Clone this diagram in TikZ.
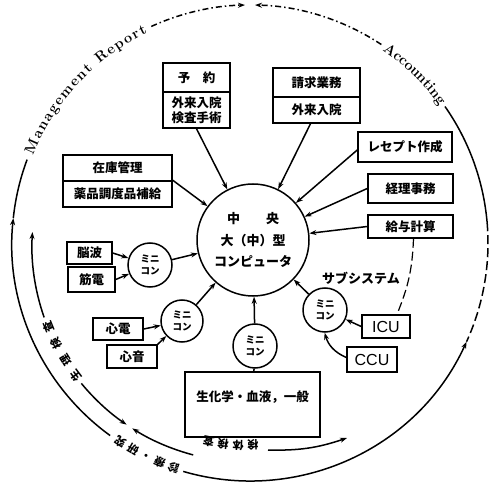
\documentclass[tikz,border=0pt]{standalone}
\usepackage{fontspec}
\newfontfamily\cjk{Noto Sans CJK JP}
\newfontfamily\lsans{Liberation Sans}
\usetikzlibrary{arrows.meta,decorations.text}
\begin{document}
\begin{tikzpicture}[x=1pt,y=1pt,line width=1.5pt,
  every node/.style={inner sep=0pt},
  arr/.style={-{Stealth[length=7pt,width=5pt]}},
  cell/.style={draw,rectangle,line width=1.5pt,align=center,font=\cjk\bfseries\fontsize{12.5}{15}\selectfont},
  mini/.style={draw,circle,line width=1.5pt,align=center,font=\cjk\bfseries\fontsize{9.5}{11.5}\selectfont},
  topdash/.style={dash pattern=on 6pt off 3pt on 1.5pt off 3pt},
  sidedash/.style={dash pattern=on 9pt off 4pt}]
\useasboundingbox (0,0) rectangle (492,482);
\fill[white] (0,0) rectangle (492,482);
\coordinate (C) at (250,239);
\coordinate (C2) at (248,236);
% central computer
\node[draw,circle,minimum size=112pt,line width=1.5pt,align=center,font=\cjk\bfseries\fontsize{13}{21.5}\selectfont] (central) at (253,242) {中　　央\\大（中）型\\コンピュータ};
% upper boxes
\node[cell,minimum width=67pt,minimum height=29pt] (yoyakuA) at (196.5,404.5) {予　約};
\node[cell,minimum width=67pt,minimum height=36pt] (yoyakuB) at (196.5,372) {外来入院\\検査手術};
\node[cell,minimum width=87pt,minimum height=29pt] (seikyuA) at (316.5,399.5) {請求業務};
\node[cell,minimum width=87pt,minimum height=26pt] (seikyuB) at (316.5,372) {外来入院};
\node[cell,minimum width=94pt,minimum height=30pt] (recept) at (405,335) {レセプト作成};
\node[cell,minimum width=85pt,minimum height=29pt] (keiri) at (410.5,293.5) {経理事務};
\node[cell,minimum width=85pt,minimum height=23pt] (kyuyo) at (410.5,255.5) {給与計算};
\node[cell,minimum width=109pt,minimum height=26pt] (zaikoA) at (117.5,314) {在庫管理};
\node[cell,minimum width=109pt,minimum height=26pt] (zaikoB) at (117.5,288) {薬品調度品補給};
% physiological
\node[cell,minimum width=45pt,minimum height=22pt] (nouha) at (89.5,229) {脳波};
\node[cell,minimum width=47pt,minimum height=25pt] (kinden) at (91.5,202.5) {筋電};
\node[cell,minimum width=50pt,minimum height=22pt] (shinden) at (118,153) {心電};
\node[cell,minimum width=50pt,minimum height=23pt] (shinon) at (132,125.5) {心音};
\node[mini,minimum size=44pt] (mini1) at (150,217) {ミニ\\コン};
\node[mini,minimum size=42pt] (mini2) at (182,161) {ミニ\\コン};
\node[mini,minimum size=44pt] (mini3) at (255,136) {ミニ\\コン};
\node[mini,minimum size=44pt] (mini4) at (325,172) {ミニ\\コン};
\node[draw,rectangle,line width=1.5pt,minimum width=135pt,minimum height=65pt] (seika) at (252.5,77.5) {};
\node[font=\cjk\bfseries\fontsize{12.5}{15}\selectfont] (seikatext) at (252.5,85) {生化学・血液，一般};
\node[cell,minimum width=48pt,minimum height=23pt,font=\lsans\fontsize{16}{16}\selectfont] (icu) at (386,155.5) {ICU};
\node[cell,minimum width=50pt,minimum height=25pt,font=\lsans\fontsize{16}{16}\selectfont] (ccu) at (372,122.5) {CCU};
\node[font=\cjk\bfseries\fontsize{13}{13}\selectfont] (subsys) at (361,204) {サブシステム};
% connectors
\draw[arr] (yoyakuB.south) -- (central);
\draw[arr] ([xshift=-6pt]seikyuB.south) -- (central);
\draw[arr] ([yshift=-3pt]recept.west) -- (central);
\draw[arr] (keiri.west) -- (central);
\draw[arr] (kyuyo.west) -- (central);
\draw[arr] (zaikoB.north east) -- (central);
\draw[arr] (nouha.east) -- (mini1);
\draw[arr] (kinden.east) -- (mini1);
\draw[arr] (mini1) -- (central);
\draw[arr] (shinden.east) -- (mini2);
\draw[arr] (shinon.north east) -- (mini2);
\draw[arr] (mini2) -- (central);
\draw[arr] (mini3) -- (central);
\draw (mini3) -- (seika);
\draw[arr] (mini4) -- (central);
\draw[arr] (icu.west) -- (mini4);
\draw[arr] ([yshift=2pt]ccu.west) to[bend left=25] (mini4);
\draw[sidedash,line width=1.2pt] ([xshift=3pt]kyuyo.south) to[bend left=10] ([xshift=11pt]icu.north);
% outer circle
\draw[arr] (C) ++(234:238) arc[start angle=234,end angle=174,radius=238];
\draw (C) ++(174:238) arc[start angle=174,end angle=159.5,radius=238];
\draw[arr,topdash] (C) ++(114.5:238) arc[start angle=114.5,end angle=91.2,radius=238];
\draw[arr,topdash] (C) ++(56.5:238) arc[start angle=56.5,end angle=88.8,radius=238];
\draw (C) ++(35:238) arc[start angle=35,end angle=5,radius=238];
\draw[sidedash] (C) ++(5:238) arc[start angle=5,end angle=-24.5,radius=238];
\draw[arr] (C) ++(253.7:238) arc[start angle=253.7,end angle=335.5,radius=238];
\path[decorate,decoration={text along path,text align=fit to path,raise=-4pt,
  text={|\bfseries\fontsize{14.5}{14.5}\selectfont|Management Report}}]
  (C) ++(158:238) arc[start angle=158,end angle=116,radius=238];
\path[decorate,decoration={text along path,text align=fit to path,raise=-4pt,
  text={|\bfseries\fontsize{14.5}{14.5}\selectfont|Accounting}}]
  (C) ++(55.5:238) arc[start angle=55.5,end angle=36,radius=238];
\path[decorate,decoration={text along path,text align=fit to path,raise=-5pt,
  text={|\cjk\bfseries\fontsize{11}{11}\selectfont|診療・研究}}]
  (C) ++(252.5:238) arc[start angle=252.5,end angle=235.5,radius=238];
% inner arc
\draw[arr] (C2) ++(199.3:216) arc[start angle=199.3,end angle=176.3,radius=216];
\draw[arr] (C2) ++(219.5:216) arc[start angle=219.5,end angle=235.8,radius=216];
\draw[arr] (C2) ++(255.3:216) arc[start angle=255.3,end angle=237.6,radius=216];
\coordinate (i4a) at (268,32);
\coordinate (i4b) at (347,44);
\draw[arr] (i4a) to[bend right=10] (i4b);
\path[decorate,decoration={text along path,text align=fit to path,raise=-5pt,
  text={|\cjk\bfseries\fontsize{11}{11}\selectfont|生理検査}}]
  (C2) ++(218.5:216) arc[start angle=218.5,end angle=200.5,radius=216];
\path[decorate,decoration={text along path,text align=fit to path,raise=-5pt,
  text={|\cjk\bfseries\fontsize{11}{11}\selectfont|検体検査}}]
  (C2) ++(273:200) arc[start angle=273,end angle=257,radius=200];
\end{tikzpicture}
\end{document}
